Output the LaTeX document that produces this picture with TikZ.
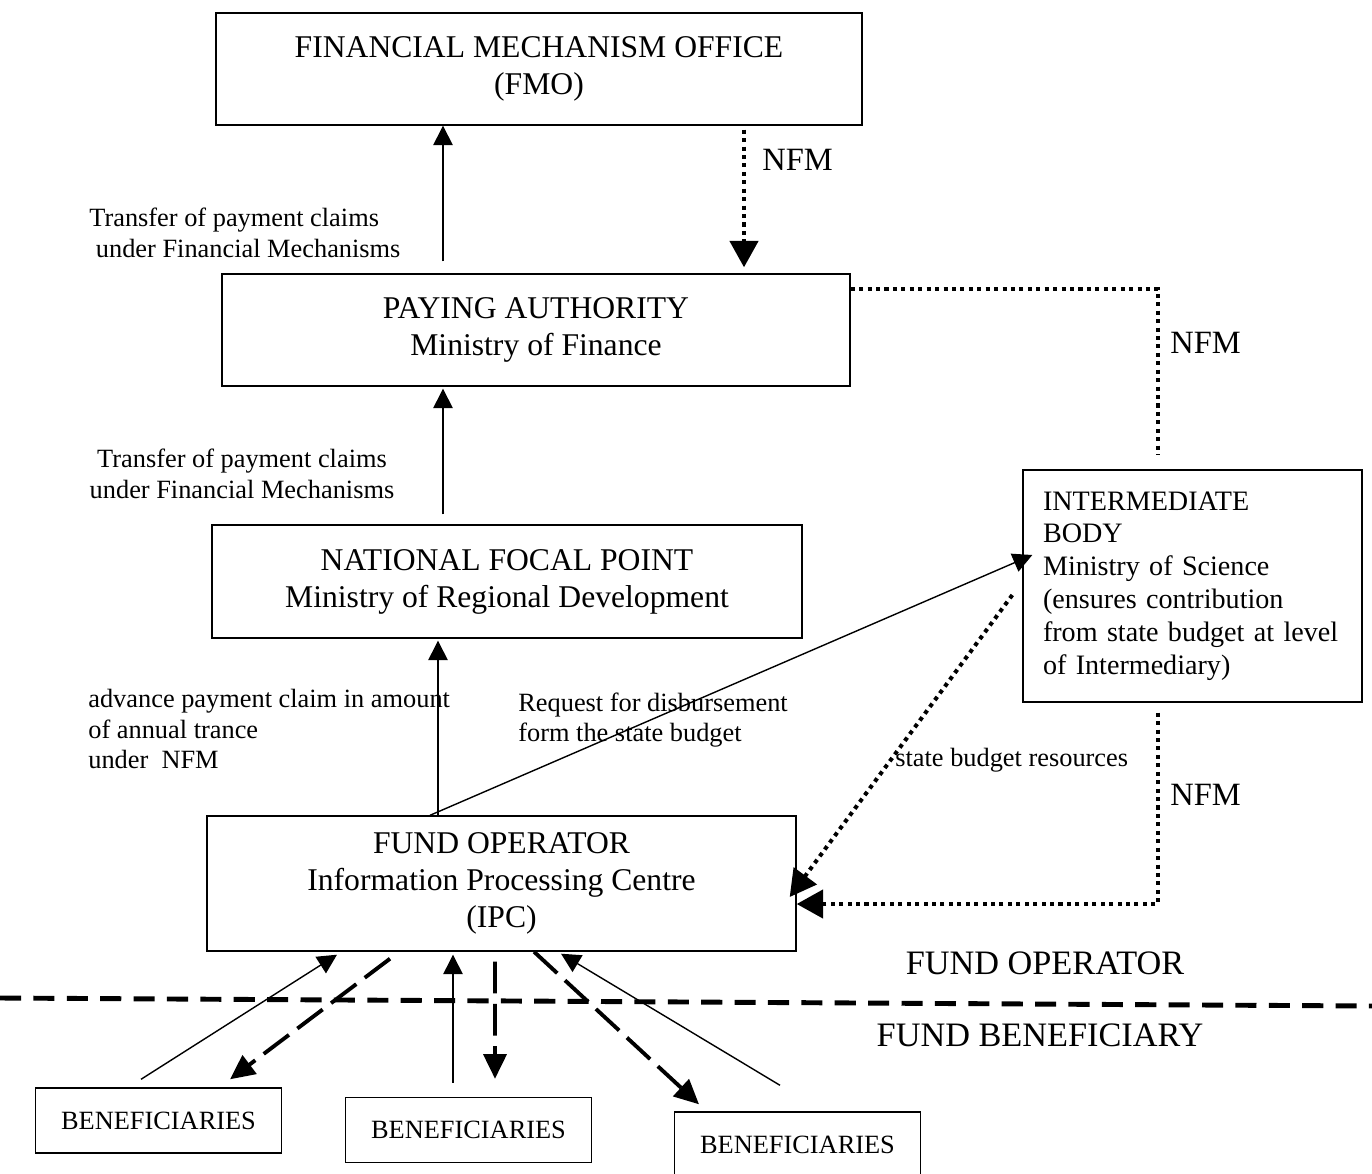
\documentclass[tikz,border=0pt]{standalone}
\usepackage{fontspec}
\setmainfont{Liberation Serif}
\usetikzlibrary{arrows.meta}
\tikzset{
  box/.style={draw, line width=0.8pt, align=center, inner sep=0pt,
    font=\fontsize{18}{21}\selectfont},
  benbox/.style={draw, line width=0.8pt, inner sep=0pt, minimum width=49.2mm,
    minimum height=13mm, font=\fontsize{15}{17}\selectfont},
  lbl/.style={align=left, inner sep=0pt, font=\fontsize{15}{17.5}\selectfont},
  nfm/.style={inner sep=0pt, font=\fontsize{18.5}{21}\selectfont},
  zone/.style={inner sep=0pt, font=\fontsize{19.5}{22}\selectfont},
  up/.style={line width=0.8pt, -{Triangle[length=11pt,width=11pt]}},
  dotline/.style={line width=2.3pt, dash pattern=on 2.3pt off 2.5pt},
  dotarrow/.style={dotline, -{Triangle[length=15pt,width=16pt]}},
  dasharrow/.style={line width=2.2pt, dash pattern=on 18pt off 6pt,
    -{Triangle[length=14pt,width=13pt]}},
  sepline/.style={line width=2.8pt, dash pattern=on 12pt off 7pt}
}
\begin{document}
\begin{tikzpicture}[x=0.2mm, y=-0.2mm]
   \useasboundingbox (0,0) rectangle (1372,1174);
   % boxes
   \node[box, minimum width=129.2mm, minimum height=22.4mm] (fmo) at (539,69)
      {FINANCIAL MECHANISM OFFICE\\(FMO)};
   \node[box, minimum width=125.6mm, minimum height=22.4mm] (pa) at (536,330)
      {PAYING AUTHORITY\\Ministry of Finance};
   \node[box, minimum width=118mm, minimum height=22.6mm] (nfp) at (507,581.5)
      {NATIONAL FOCAL POINT\\Ministry of Regional Development};
   \node[box, minimum width=117.8mm, minimum height=27mm] (fo) at (501.5,883.5)
      {FUND OPERATOR\\Information Processing Centre\\(IPC)};
   \node[box, align=left, inner xsep=4mm, text width=59.8mm, minimum height=46.4mm,
      font=\fontsize{16}{18.7}\selectfont] (ib) at (1192.5,586)
      {INTERMEDIATE\\BODY\\Ministry of Science\\(ensures contribution\\from state budget at level\\of Intermediary)};
   \foreach \n / \x / \y in {b1/158.5/1120.5, b2/468.5/1130, b3/797.5/1144.5} {
      \node[benbox] (\n) at (\x,\y) {BENEFICIARIES};
   }
   % upward claims
   \draw[up] ([shift={(-93,-12)}]pa.north) -- ([shift={(-96,0)}]fmo.south);
   \draw[up] ([shift={(-64,-10)}]nfp.north) -- ([shift={(-93,2)}]pa.south);
   \draw[up] ([shift={(-63.5,0)}]fo.north) -- ([shift={(-69,2)}]nfp.south);
   \draw[up] ([shift={(-71.5,0)}]fo.north) -- ([shift={(10,-31)}]ib.west);
   % NFM flows
   \draw[dotarrow] ([shift={(205,4)}]fmo.south) -- ([shift={(208,-6)}]pa.north);
   \draw[dotline] ([shift={(0,-41)}]pa.east) -| ([shift={(-34.5,-15)}]ib.north);
   \draw[dotarrow] ([shift={(-10,9)}]ib.west) -- ([shift={(-7,13.5)}]fo.east);
   \draw[dotarrow] ([shift={(-34.5,10)}]ib.south) |- ([shift={(0,20.5)}]fo.east);
   % beneficiaries
   \draw[up] ([shift={(-17.5,-8)}]b1.north) -- ([shift={(-164.5,3)}]fo.south);
   \draw[dasharrow] ([shift={(-111.5,7)}]fo.south) -- ([shift={(71.5,-8)}]b1.north);
   \draw[up] ([shift={(-15.5,-14)}]b2.north) -- ([shift={(-48.5,3)}]fo.south);
   \draw[dasharrow] ([shift={(-6.5,10)}]fo.south) -- ([shift={(26.5,-18)}]b2.north);
   \draw[dasharrow] ([shift={(32.5,0)}]fo.south) -- ([shift={(-98.5,-7)}]b3.north);
   \draw[up] ([shift={(-17.5,-26)}]b3.north) -- ([shift={(59.5,2)}]fo.south);
   % level separator
   \draw[sepline] (0,998) -- (1372,1006);
   % labels
   \node[nfm, anchor=west] (nfma) at (762,160) {NFM};
   \node[nfm, anchor=west] (nfmb) at (1170,343) {NFM};
   \node[nfm, anchor=west] (nfmc) at (1170,795) {NFM};
   \node[lbl, anchor=west] (tr1) at (89,233)
      {Transfer of payment claims\\\ under Financial Mechanisms};
   \node[lbl, align=center] (tr2) at (242,474)
      {Transfer of payment claims\\under Financial Mechanisms};
   \node[lbl, anchor=west] (adv) at (88,729)
      {advance payment claim in amount\\of annual trance\\under~~NFM};
   \node[lbl, anchor=west] (req) at (518,720)
      {Request for disbursement\\form the state budget};
   \node[lbl, anchor=west] (sbr) at (895,760) {state budget resources};
   \node[zone] (zop) at (1045,963) {FUND OPERATOR};
   \node[zone] (zben) at (1040,1035) {FUND BENEFICIARY};
\end{tikzpicture}
\end{document}
